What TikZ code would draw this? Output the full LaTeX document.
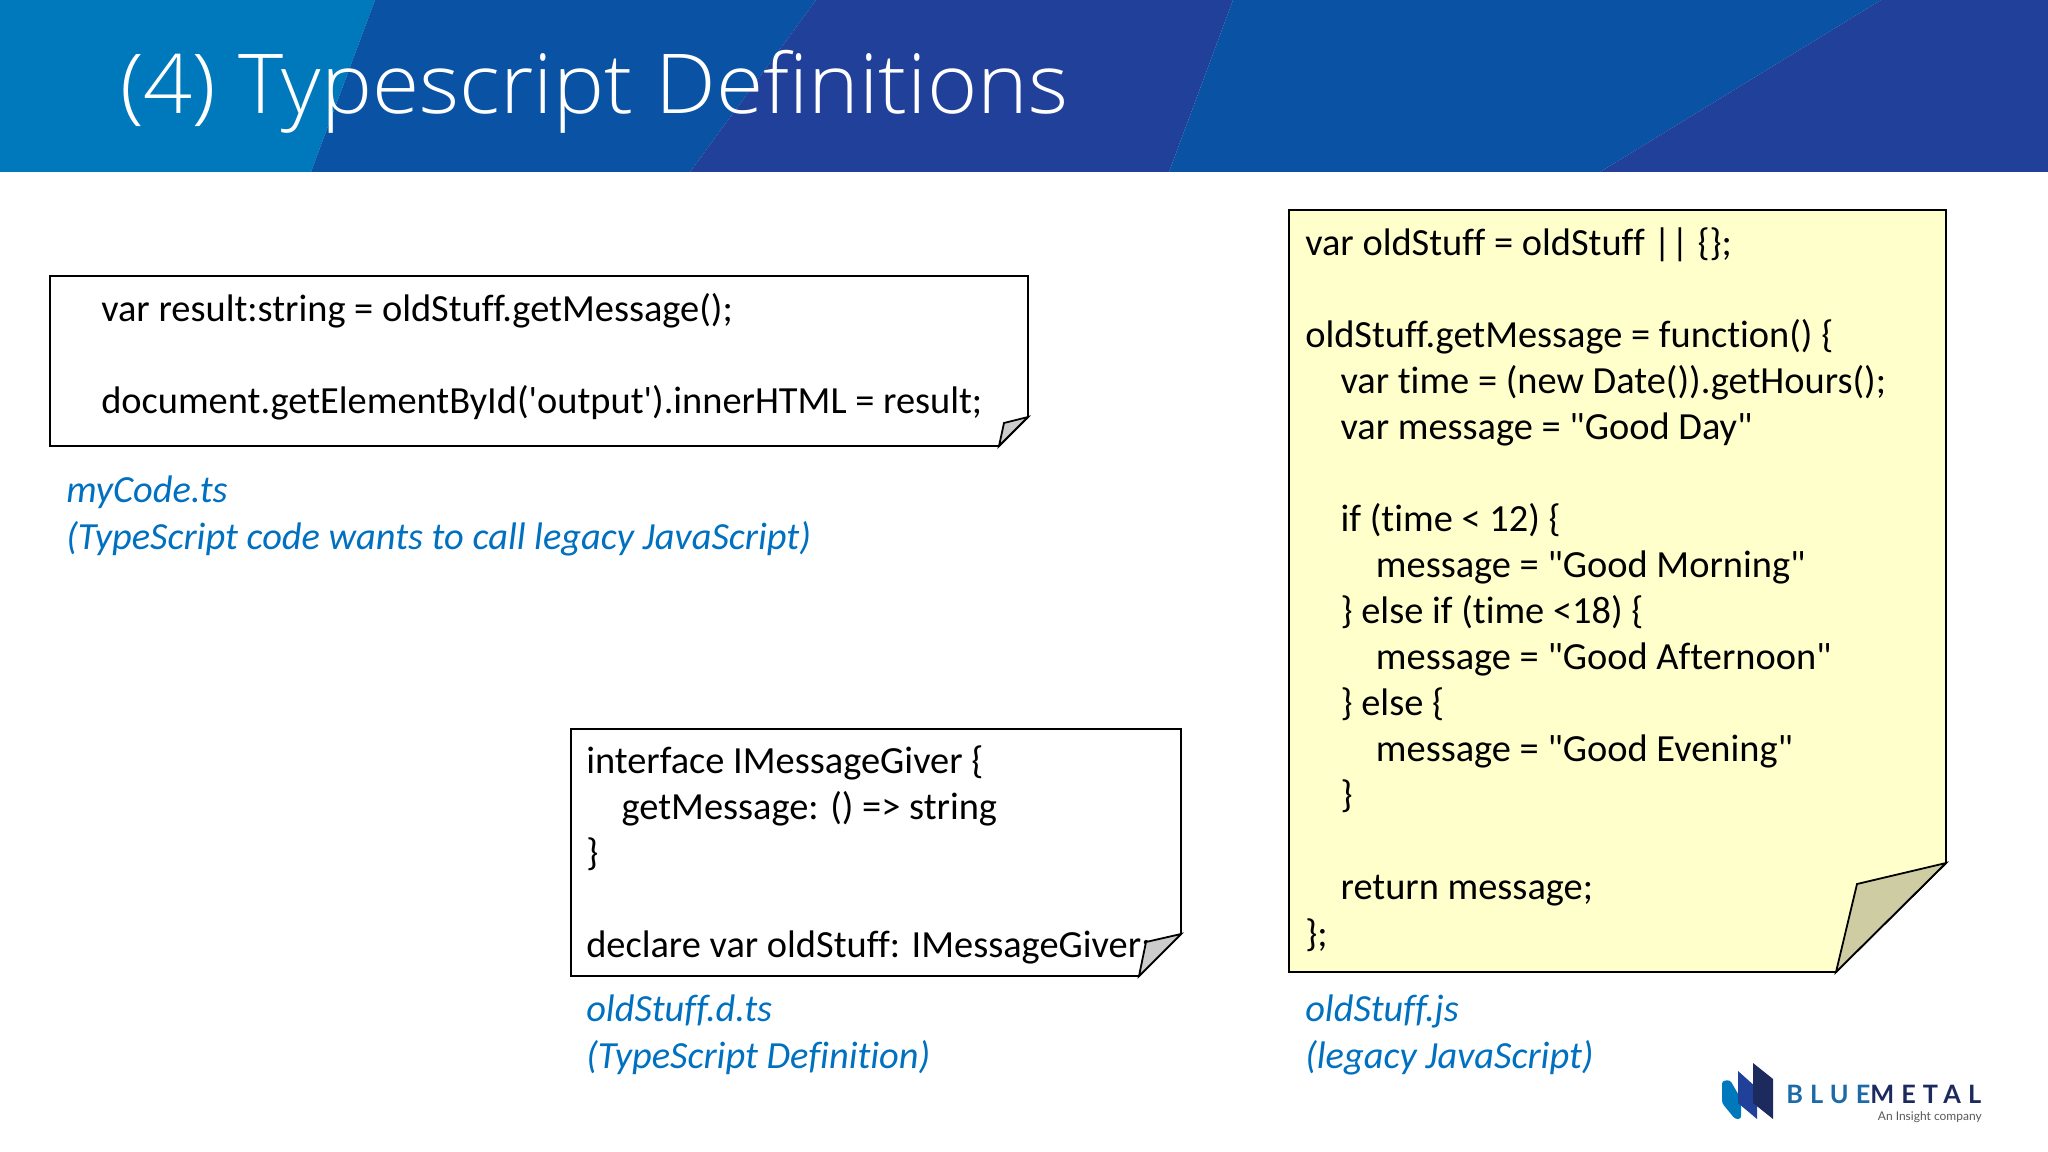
\documentclass[tikz,border=0pt]{standalone}
\usepackage{fontspec}
\usepackage{xcolor}
\setmainfont[Ligatures={TeXOff,CommonOff}]{Carlito}
\newfontfamily\titlefont[FakeStretch=1.04]{Open Sans Light}
\newfontfamily\logofont[LetterSpace=28]{Lato}
\newfontfamily\tagfont{Lato}
\definecolor{skyband}{HTML}{0079BC}
\definecolor{midband}{HTML}{0A52A3}
\definecolor{darkband}{HTML}{214099}
\definecolor{caption}{HTML}{0070C0}
\definecolor{noteyellow}{HTML}{FFFFCC}
\definecolor{foldyellow}{HTML}{CDCCA3}
\definecolor{foldgrey}{HTML}{CCCCCC}
\definecolor{logoblue}{HTML}{1C6BA8}
\definecolor{logodark}{HTML}{1D2A5E}
\newcommand{\ind}{\hspace*{26.5pt}}
\tikzset{
  codetext/.style={anchor=north west,inner sep=0.75pt,align=left,font=\fontsize{28.8}{34.55}\selectfont},
  captiontext/.style={codetext,text=caption,font=\fontsize{28.8}{34.55}\selectfont\itshape},
  notebox/.style={draw,line width=1.35pt,line join=miter},
}
\begin{document}
\begin{tikzpicture}[x=0.75pt,y=0.75pt,yscale=-1,xscale=1]
\useasboundingbox (0,0) rectangle (2048,1152);

%Shape: Header bands
\fill [skyband] (0,0) -- (375,0) -- (311,172) -- (0,172) -- cycle ;
\fill [midband] (375,0) -- (816,0) -- (690,172) -- (311,172) -- cycle ;
\fill [darkband] (816,0) -- (1233,0) -- (1169,172) -- (690,172) -- cycle ;
\fill [midband] (1233,0) -- (1881,0) -- (1600,172) -- (1169,172) -- cycle ;
\fill [darkband] (1881,0) -- (2048,0) -- (2048,172) -- (1600,172) -- cycle ;

% Text Node
\draw (119,49) node [anchor=north west,inner sep=0.75pt,text=white,font=\fontsize{62}{74}\titlefont\selectfont] (title) {(4) Typescript Definitions};

%Shape: Note, calling code
\draw [notebox,fill=white] (50,276) -- (1028,276) -- (1028,417) -- (999,446) -- (50,446) -- cycle ;
% Text Node
\draw (100,292) node [codetext] (callcode) {var result:string = oldStuff.getMessage();\\\mbox{}\\document.getElementById('output').innerHTML = result;};
%Shape: Fold
\draw [notebox,fill=foldgrey] (999,446) -- (1004,423) -- (1028,417) -- cycle ;

% Text Node
\draw (65,475) node [captiontext] (callcaption) {myCode.ts\\(TypeScript code wants to call legacy JavaScript)};

%Shape: Note, definition
\draw [notebox,fill=white] (571,729) -- (1181,729) -- (1181,934) -- (1139,976) -- (571,976) -- cycle ;
% Text Node
\draw (585,744) node [codetext] (defcode) {interface IMessageGiver \{\\\ind getMessage: () => string\\\}\\\mbox{}\\declare var oldStuff: IMessageGiver;};
%Shape: Fold
\draw [notebox,fill=foldgrey] (1139,976) -- (1146,942) -- (1181,934) -- cycle ;

% Text Node
\draw (585,994) node [captiontext] (defcaption) {oldStuff.d.ts\\(TypeScript Definition)};

%Shape: Note, legacy code
\draw [notebox,fill=noteyellow] (1289,210) -- (1946,210) -- (1946,863) -- (1836,972) -- (1289,972) -- cycle ;
% Text Node
\draw (1304,226) node [codetext] (legacycode) {var oldStuff = oldStuff || \{\};\\\mbox{}\\oldStuff.getMessage = function() \{\\\ind var time = (new Date()).getHours();\\\ind var message = "Good Day"\\\mbox{}\\\ind if (time < 12) \{\\\ind\ind message = "Good Morning"\\\ind\} else if (time <18) \{\\\ind\ind message = "Good Afternoon"\\\ind\} else \{\\\ind\ind message = "Good Evening"\\\ind\}\\\mbox{}\\\ind return message;\\\};};
%Shape: Fold
\draw [notebox,fill=foldyellow] (1836,972) -- (1857,884) -- (1946,863) -- cycle ;

% Text Node
\draw (1304,994) node [captiontext] (legacycaption) {oldStuff.js\\(legacy JavaScript)};

%Shape: Logo
\fill [skyband,rounded corners=2pt] (1722,1081) -- (1730,1080) -- (1741,1099) -- (1741,1119) -- (1735,1119) -- (1722,1103) -- cycle ;
\fill [darkband] (1738,1071) -- (1757,1088) -- (1757,1119) -- (1738,1103) -- cycle ;
\fill [logodark] (1753,1063) -- (1773,1079) -- (1773,1119) -- (1753,1103) -- cycle ;
% Text Node
\draw (1786,1094) node [anchor=west,inner sep=0pt,font=\fontsize{19}{22}\logofont\bfseries\selectfont] (logoname) {\textcolor{logoblue}{BLUE}\textcolor{logodark}{METAL}};
% Text Node
\draw (1982,1117) node [anchor=east,inner sep=0pt,text=black!65,font=\fontsize{9}{11}\tagfont\selectfont] (logotag) {An Insight company};
\end{tikzpicture}
\end{document}
